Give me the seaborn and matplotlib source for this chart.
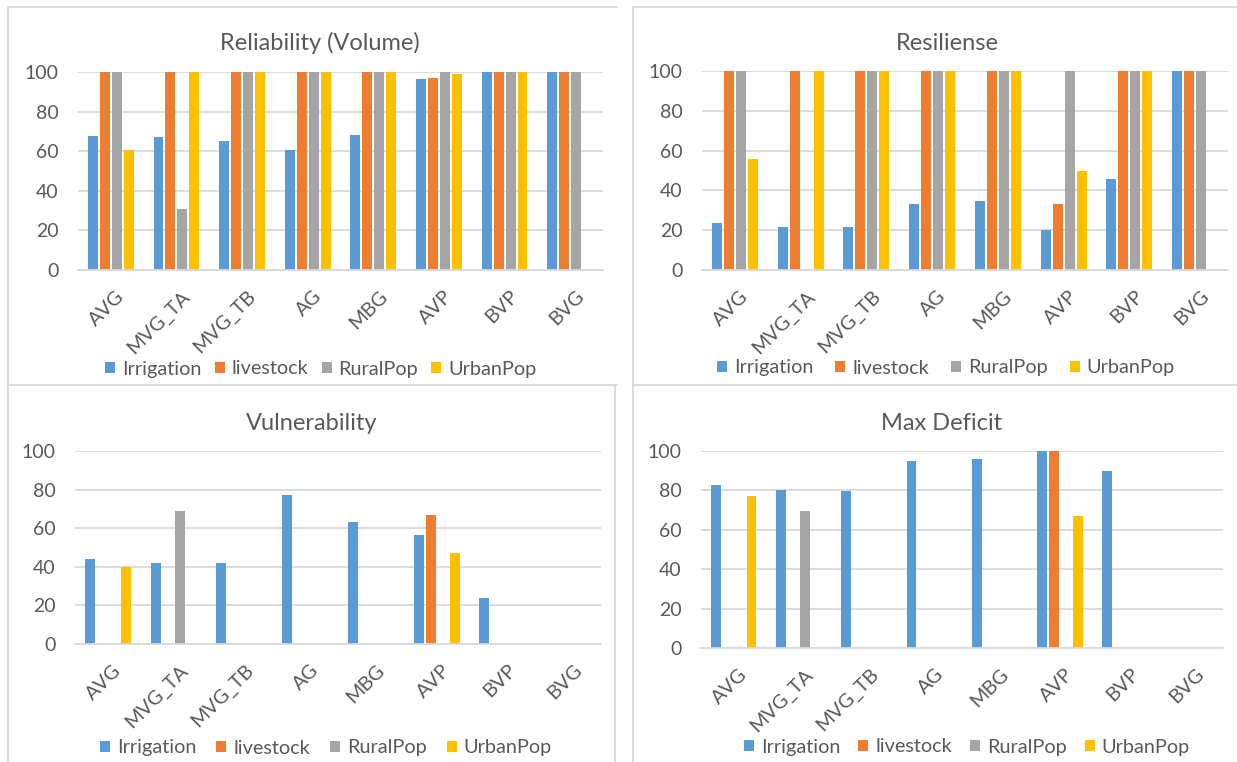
import matplotlib
matplotlib.use("Agg")
import matplotlib.pyplot as plt
from matplotlib.lines import Line2D
from matplotlib.transforms import ScaledTranslation
import pandas as pd
import seaborn as sns

# Supply systems (x categories) and water users (series)
categories = ["AVG", "MVG_TA", "MVG_TB", "AG", "MBG", "AVP", "BVP", "BVG"]
users = ["Irrigation", "livestock", "RuralPop", "UrbanPop"]

# Reliability (Volume), %
rel_irrigation = [67.5, 67.0, 65.0, 60.6, 68.2, 96.5, 100, 100]
rel_livestock = [100, 100, 100, 100, 100, 97.1, 100, 100]
rel_ruralpop = [100, 31.0, 100, 100, 100, 100, 100, 100]
rel_urbanpop = [60.8, 100, 100, 100, 100, 98.8, 100, 0]

# Resiliense, %
res_irrigation = [23.8, 21.7, 21.5, 33.3, 34.7, 20.0, 45.5, 100]
res_livestock = [100, 100, 100, 100, 100, 33.3, 100, 100]
res_ruralpop = [100, 0, 100, 100, 100, 100, 100, 100]
res_urbanpop = [56.0, 100, 100, 100, 100, 50.0, 100, 0]

# Vulnerability, %
vul_irrigation = [44.2, 42.0, 41.8, 77.3, 63.2, 56.6, 23.8, 0]
vul_livestock = [0, 0, 0, 0, 0, 66.8, 0, 0]
vul_ruralpop = [0, 68.8, 0, 0, 0, 0, 0, 0]
vul_urbanpop = [39.9, 0, 0, 0, 0, 47.2, 0, 0]

# Max Deficit, %
def_irrigation = [82.7, 80.4, 79.5, 95.1, 96.1, 100, 89.7, 0]
def_livestock = [0, 0, 0, 0, 0, 100, 0, 0]
def_ruralpop = [0, 69.4, 0, 0, 0, 0, 0, 0]
def_urbanpop = [77.3, 0, 0, 0, 0, 67.2, 0, 0]

y_ticks = [0, 20, 40, 60, 80, 100]

colors = ["#5B9BD5", "#ED7D31", "#A5A5A5", "#FFC000"]
text_color = "#595959"
grid_color = "#D9D9D9"

sns.set_theme(style="white")
plt.rcParams["font.family"] = ["Lato", "DejaVu Sans"]

W, H = 1237, 762
PX = 72 / 100  # points per pixel at 100 dpi
fig = plt.figure(figsize=(W / 100, H / 100), dpi=100)
fig.patch.set_facecolor("white")


def long_frame(series):
    rows = []
    for user, vals in zip(users, series):
        for cat, v in zip(categories, vals):
            rows.append({"system": cat, "user": user, "value": v})
    return pd.DataFrame(rows)


# title, data, plot box in px (left, top=100, right, bottom=0),
# title centre (x, y), legend centre (x, y), legend column gap in px
panels = [
    ("Reliability (Volume)", [rel_irrigation, rel_livestock, rel_ruralpop, rel_urbanpop],
     (78, 72, 603, 270), (320, 43), (321, 369), 13),
    ("Resiliense", [res_irrigation, res_livestock, res_ruralpop, res_urbanpop],
     (702, 71, 1228, 270), (947, 43), (946, 368), 22),
    ("Vulnerability", [vul_irrigation, vul_livestock, vul_ruralpop, vul_urbanpop],
     (75, 451, 601, 644), (312, 423), (326, 748), 20),
    ("Max Deficit", [def_irrigation, def_livestock, def_ruralpop, def_urbanpop],
     (701, 451, 1223, 648), (942, 423), (967, 747), 18),
]

leg_fs = 14.3
for title, series, (l, t, r, b), (tx, ty), (lx, ly), colgap in panels:
    ax = fig.add_axes([l / W, 1 - b / H, (r - l) / W, (b - t) / H])
    df = long_frame(series)
    sns.barplot(data=df, x="system", y="value", hue="user", palette=colors,
                width=0.73, gap=0.17, errorbar=None, linewidth=0,
                saturation=1, ax=ax, legend=True)
    ax.set_ylim(0, 100)
    ax.set_xlim(-0.5, len(categories) - 0.5)
    ax.set_yticks(y_ticks)
    ax.set_yticklabels([str(v) for v in y_ticks])
    ax.yaxis.grid(True, color=grid_color, linewidth=1.3)
    ax.set_axisbelow(True)
    for side in ["top", "right", "left"]:
        ax.spines[side].set_visible(False)
    ax.spines["bottom"].set_color(grid_color)
    ax.spines["bottom"].set_linewidth(1.3)
    ax.set_xlabel("")
    ax.set_ylabel("")
    ax.tick_params(axis="y", length=0, pad=14, labelsize=14, labelcolor=text_color)
    ax.tick_params(axis="x", length=0, pad=12.5, labelsize=14.3, labelcolor=text_color)
    shift = ScaledTranslation(5 / 100, 0, fig.dpi_scale_trans)
    for lab in ax.get_xticklabels():
        lab.set_rotation(45)
        lab.set_ha("right")
        lab.set_va("top")
        lab.set_rotation_mode("anchor")
        lab.set_transform(lab.get_transform() + shift)
    ax.set_facecolor("white")
    fig.text(tx / W, 1 - ty / H, title, ha="center", va="center",
             fontsize=17, color=text_color)
    em = leg_fs / PX  # font size in px
    leg = ax.legend(loc="center", bbox_to_anchor=(lx / W, 1 - ly / H),
                    bbox_transform=fig.transFigure, ncol=4, frameon=False,
                    handlelength=10 / em, handleheight=10 / em,
                    handletextpad=7 / em, columnspacing=colgap / em,
                    fontsize=leg_fs, borderaxespad=0)
    for txt in leg.get_texts():
        txt.set_color(text_color)

# Chart frames
frame_kw = dict(color=grid_color, linewidth=1.3, transform=None)


def fline(x0, y0, x1, y1):
    fig.add_artist(Line2D([x0, x1], [H - y0, H - y1], **frame_kw))


fline(7.5, 6.5, 617, 6.5)
fline(7.5, 6.5, 7.5, 762)
fline(7.5, 385, 617, 385)
fline(614.5, 385, 614.5, 762)
fline(632.5, 6.5, 1237, 6.5)
fline(632.5, 6.5, 632.5, 762)
fline(632.5, 385, 1237, 385)

fig.savefig("out.png", dpi=100, facecolor="white")
